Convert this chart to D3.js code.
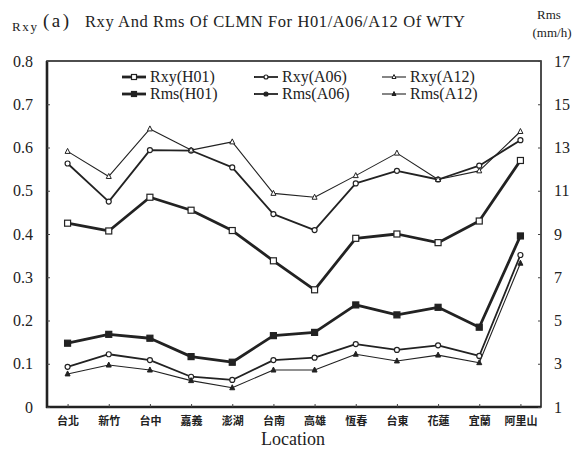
<!DOCTYPE html>
<html>
<head>
<meta charset="utf-8">
<script src="https://cdn.jsdelivr.net/npm/d3@7"></script>
<style>
  body { margin: 0; background: #fff; }
  text { font-family: "Liberation Serif", "Times New Roman", serif; fill: #222; }
</style>
</head>
<body>
<div id="chart"></div>
<script>
// locations along the x axis
var locations = ["台北", "新竹", "台中", "嘉義", "澎湖", "台南", "高雄", "恆春", "台東", "花蓮", "宜蘭", "阿里山"];

// correlation (left axis)
var rxyH01 = [0.425, 0.407, 0.485, 0.455, 0.408, 0.338, 0.271, 0.390, 0.400, 0.380, 0.430, 0.570];
var rxyA06 = [0.563, 0.475, 0.594, 0.593, 0.554, 0.446, 0.409, 0.517, 0.546, 0.526, 0.558, 0.617];
var rxyA12 = [0.591, 0.533, 0.643, 0.594, 0.613, 0.494, 0.485, 0.535, 0.587, 0.526, 0.546, 0.637];

// rms (right axis, mm/h)
var rmsH01 = [3.95, 4.36, 4.18, 3.33, 3.07, 4.30, 4.45, 5.72, 5.26, 5.61, 4.69, 8.91];
var rmsA06 = [2.86, 3.44, 3.17, 2.40, 2.25, 3.17, 3.28, 3.91, 3.64, 3.85, 3.36, 8.03];
var rmsA12 = [2.53, 2.94, 2.71, 2.22, 1.89, 2.71, 2.71, 3.44, 3.13, 3.40, 3.05, 7.65];

var leftTicks = [0, 0.1, 0.2, 0.3, 0.4, 0.5, 0.6, 0.7, 0.8];
var rightTicks = [1, 3, 5, 7, 9, 11, 13, 15, 17];

var W = 585, H = 454;
var L = 47, R = 541, T = 61, B = 407;

var svg = d3.select("#chart").append("svg").attr("width", W).attr("height", H);

var x = d3.scalePoint().domain(locations).range([L, R]).padding(0.5);
var yL = d3.scaleLinear().domain([0, 0.8]).range([B, T]);
var yR = d3.scaleLinear().domain([1, 17]).range([B, T]);

// frame
svg.append("rect").attr("x", L).attr("y", T).attr("width", R - L).attr("height", B - T)
    .attr("fill", "none").attr("stroke", "#222").attr("stroke-width", 1.6);
svg.append("line").attr("x1", L).attr("x2", L).attr("y1", T).attr("y2", B + 1)
    .attr("stroke", "#222").attr("stroke-width", 2.6);
svg.append("line").attr("x1", L - 1).attr("x2", R).attr("y1", B).attr("y2", B)
    .attr("stroke", "#222").attr("stroke-width", 2.6);

// axes
var axL = svg.append("g").attr("transform", "translate(" + L + ",0)")
    .call(d3.axisLeft(yL).tickValues(leftTicks).tickSize(-3).tickPadding(14)
        .tickFormat(function (d) { return d === 0 ? "0" : d3.format(".1f")(d); }));
var axR = svg.append("g").attr("transform", "translate(" + R + ",0)")
    .call(d3.axisRight(yR).tickValues(rightTicks).tickSize(-3).tickPadding(13));
var axB = svg.append("g").attr("transform", "translate(0," + B + ")")
    .call(d3.axisBottom(x).tickSize(-3).tickPadding(10));
[axL, axR, axB].forEach(function (g) {
    g.select(".domain").remove();
    g.selectAll(".tick line").attr("stroke", "#444").attr("stroke-width", 1);
});
axL.selectAll("text").attr("font-size", 16).attr("fill", "#222");
axR.selectAll("text").attr("font-size", 16).attr("fill", "#222").attr("text-anchor", "start");
axB.selectAll("text").attr("font-size", 11).attr("fill", "#111")
    .style("font-family", "'Noto Sans CJK TC', 'Noto Sans CJK SC', sans-serif").attr("font-weight", "bold");

// series
var series = [
    {name: "Rxy(H01)", vals: rxyH01, y: yL, w: 2.8, mark: "square", fill: "#fff", size: 6},
    {name: "Rxy(A06)", vals: rxyA06, y: yL, w: 1.8, mark: "circle", fill: "#fff", size: 5},
    {name: "Rxy(A12)", vals: rxyA12, y: yL, w: 1.1, mark: "triangle", fill: "#fff", size: 5},
    {name: "Rms(H01)", vals: rmsH01, y: yR, w: 2.8, mark: "square", fill: "#222", size: 6},
    {name: "Rms(A06)", vals: rmsA06, y: yR, w: 1.8, mark: "circle", fill: "#fff", size: 5},
    {name: "Rms(A12)", vals: rmsA12, y: yR, w: 1.1, mark: "triangle", fill: "#222", size: 5}
];

function marker(g, s, px, py, fill) {
    var h = s.size / 2;
    if (s.mark === "square") {
        g.append("rect").attr("x", px - h).attr("y", py - h).attr("width", s.size).attr("height", s.size)
            .attr("fill", fill).attr("stroke", "#222").attr("stroke-width", 1.2);
    } else if (s.mark === "circle") {
        g.append("circle").attr("cx", px).attr("cy", py).attr("r", h)
            .attr("fill", fill).attr("stroke", "#222").attr("stroke-width", 1.2);
    } else {
        g.append("path").attr("d", "M" + px + "," + (py - h - 0.5) + "L" + (px + h) + "," + (py + h - 0.5) + "L" + (px - h) + "," + (py + h - 0.5) + "Z")
            .attr("fill", fill).attr("stroke", "#222").attr("stroke-width", 1);
    }
}

var plot = svg.append("g");
series.forEach(function (s) {
    var line = d3.line().x(function (d, i) { return x(locations[i]); }).y(function (d) { return s.y(d); });
    plot.append("path").datum(s.vals).attr("d", line).attr("fill", "none")
        .attr("stroke", "#222").attr("stroke-width", s.w).attr("stroke-linejoin", "round");
});
series.forEach(function (s) {
    var g = plot.append("g");
    s.vals.forEach(function (v, i) { marker(g, s, x(locations[i]), s.y(v), s.fill); });
});

// legend
var legCols = [122, 254, 382], legRows = [77, 94];
series.forEach(function (s, i) {
    var cx = legCols[i % 3], cy = legRows[Math.floor(i / 3)];
    var g = svg.append("g");
    g.append("line").attr("x1", cx).attr("x2", cx + 24).attr("y1", cy).attr("y2", cy)
        .attr("stroke", "#222").attr("stroke-width", s.w);
    var fill = s.name === "Rms(A06)" ? "#222" : s.fill;
    marker(g, {mark: s.mark, size: s.size - 1}, cx + 12, cy, fill);
    g.append("text").attr("x", cx + 28).attr("y", cy + 5).attr("font-size", 16).text(s.name);
});

// titles
svg.append("text").attr("x", 12).attr("y", 31).attr("font-size", 13)
    .attr("textLength", 25).attr("lengthAdjust", "spacing").text("Rxy");
svg.append("text").attr("x", 43).attr("y", 27).attr("font-size", 19)
    .attr("textLength", 26).attr("lengthAdjust", "spacing").text("(a)");
svg.append("text").attr("x", 85).attr("y", 27).attr("font-size", 16.5)
    .attr("textLength", 380).attr("lengthAdjust", "spacing")
    .text("Rxy And Rms Of CLMN For H01/A06/A12 Of WTY");
svg.append("text").attr("x", 549).attr("y", 19).attr("font-size", 13).attr("text-anchor", "middle").text("Rms");
svg.append("text").attr("x", 552).attr("y", 37).attr("font-size", 13).attr("text-anchor", "middle").text("(mm/h)");
svg.append("text").attr("x", 293).attr("y", 445).attr("font-size", 18).attr("text-anchor", "middle").text("Location");
</script>
</body>
</html>
